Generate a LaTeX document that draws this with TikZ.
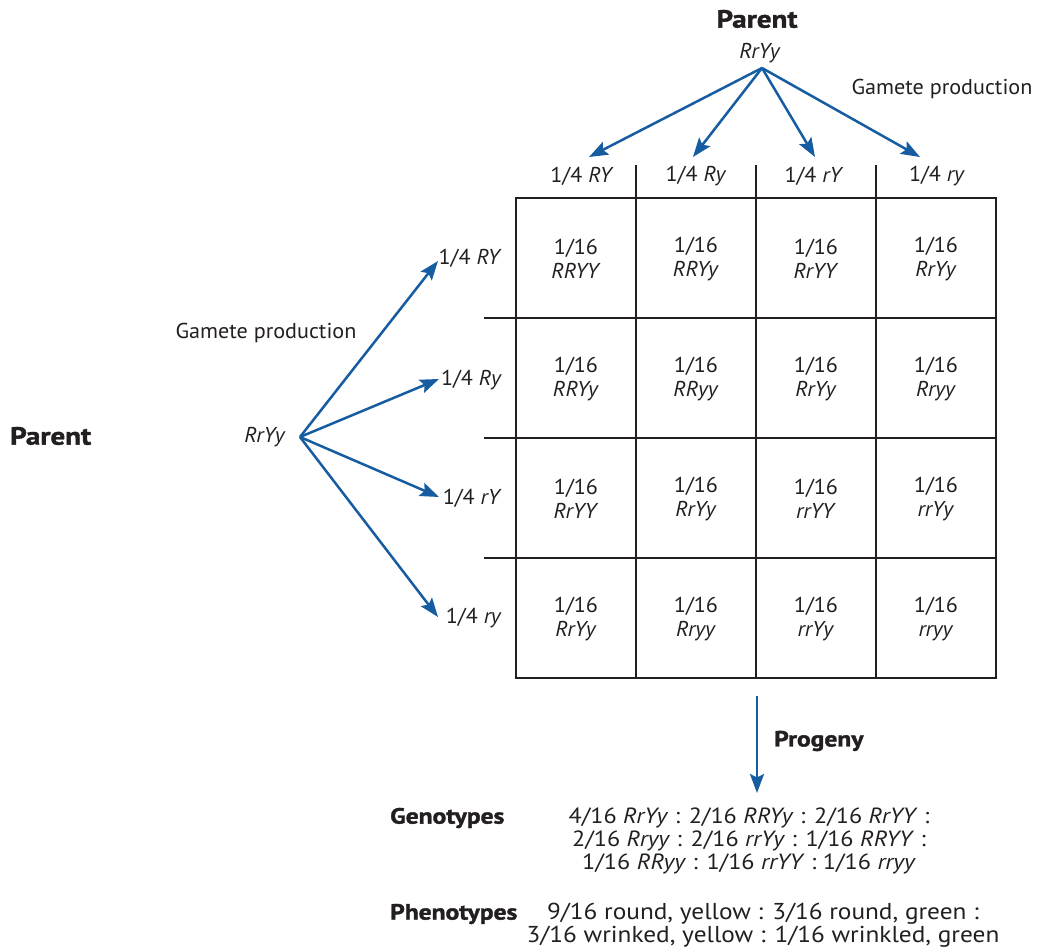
\documentclass[tikz,border=0pt]{standalone}
\usepackage{fontspec}
\setmainfont{PT Sans}[FakeStretch=1.03]
\newfontfamily\widefont{PT Sans}[FakeStretch=1.1]
\newfontfamily\heavyfont{PT Sans Bold}[FakeBold=1.6,FakeStretch=1.16]
\usetikzlibrary{arrows.meta}
\definecolor{arrowblue}{RGB}{22,92,160}
\definecolor{ink}{RGB}{35,31,32}
\newcommand{\g}[1]{\textit{#1}}
\begin{document}
\begin{tikzpicture}[x=1pt,y=-1pt,
  every node/.style={text=ink,inner sep=0pt,font=\fontsize{21.5}{23.5}\selectfont},
  head/.style={font=\fontsize{22}{24}\heavyfont},
  parenthead/.style={font=\fontsize{25}{26}\heavyfont},
  cell/.style={align=center},
  genotext/.style={align=center,font=\fontsize{22}{23}\widefont},
  phenotext/.style={align=center,font=\fontsize{23}{23}\widefont},
  gam/.style={draw=arrowblue,line width=2.5pt,-{Stealth[length=19pt,width=14pt,inset=3.5pt]}},
  outer/.style={draw=ink,line width=2.4pt},
  inner/.style={draw=ink,line width=1.3pt}]
\useasboundingbox (0,0) rectangle (1037,949);

% top parent and its gametes
\node[parenthead] (tparent) at (757,19) {Parent};
\node (tgeno) at (760,53) {\g{RrYy}};
\coordinate (tsrc) at (762,68);
\node (tgam) at (942,89) {Gamete production};
\coordinate (t1) at (589,157);
\coordinate (t2) at (693,157);
\coordinate (t3) at (815,157);
\coordinate (t4) at (920,157);
\foreach \i in {1,...,4} \draw[gam] (tsrc) -- (t\i);
\node (c1) at (582,176) {1/4 \g{RY}};
\node (c2) at (696,176) {1/4 \g{Ry}};
\node (c3) at (814,176) {1/4 \g{rY}};
\node (c4) at (937,176) {1/4 \g{ry}};

% left parent and its gametes
\node[parenthead,anchor=west] (lparent) at (10,436) {Parent};
\node (lgeno) at (265,437) {\g{RrYy}};
\coordinate (lsrc) at (300,437);
\node (lgam) at (266,333) {Gamete production};
\coordinate (l1) at (438,261);
\coordinate (l2) at (439,379);
\coordinate (l3) at (439,497);
\coordinate (l4) at (438,617);
\foreach \i in {1,...,4} \draw[gam] (lsrc) -- (l\i);
\node[anchor=east] (r1) at (502,258) {1/4 \g{RY}};
\node[anchor=east] (r2) at (502,380) {1/4 \g{Ry}};
\node[anchor=east] (r3) at (502,498) {1/4 \g{rY}};
\node[anchor=east] (r4) at (502,618) {1/4 \g{ry}};

% Punnett square
\foreach \x in {636,756,876} \draw[inner] (\x,165) -- (\x,678);
\foreach \y in {318,438,558} \draw[inner] (484,\y) -- (996,\y);
\draw[outer] (516,198) rectangle (996,678);

\node[cell] (s11) at (576,259) {1/16\\\g{RRYY}};
\node[cell] (s12) at (696,259) {1/16\\\g{RRYy}};
\node[cell] (s13) at (816,259) {1/16\\\g{RrYY}};
\node[cell] (s14) at (936,259) {1/16\\\g{RrYy}};
\node[cell] (s21) at (576,379) {1/16\\\g{RRYy}};
\node[cell] (s22) at (696,379) {1/16\\\g{RRyy}};
\node[cell] (s23) at (816,379) {1/16\\\g{RrYy}};
\node[cell] (s24) at (936,379) {1/16\\\g{Rryy}};
\node[cell] (s31) at (576,499) {1/16\\\g{RrYY}};
\node[cell] (s32) at (696,499) {1/16\\\g{RrYy}};
\node[cell] (s33) at (816,499) {1/16\\\g{rrYY}};
\node[cell] (s34) at (936,499) {1/16\\\g{rrYy}};
\node[cell] (s41) at (576,619) {1/16\\\g{RrYy}};
\node[cell] (s42) at (696,619) {1/16\\\g{Rryy}};
\node[cell] (s43) at (816,619) {1/16\\\g{rrYy}};
\node[cell] (s44) at (936,619) {1/16\\\g{rryy}};

% progeny
\coordinate (pstart) at (757,696);
\coordinate (pend) at (757,793);
\draw[gam] (pstart) -- (pend);
\node[head,anchor=west] (prog) at (774,741) {Progeny};

\node[head,anchor=west] (genolab) at (390,818) {Genotypes};
\node[genotext] (genos) at (749,841) {4/16 \g{RrYy} : 2/16 \g{RRYy} : 2/16 \g{RrYY} :\\
  2/16 \g{Rryy} : 2/16 \g{rrYy} : 1/16 \g{RRYY} :\\
  1/16 \g{RRyy} : 1/16 \g{rrYY} : 1/16 \g{rryy}};

\node[head,anchor=west] (phenolab) at (390,914) {Phenotypes};
\node[phenotext] (phenos) at (763,925) {9/16 round, yellow : 3/16 round, green :\\
  3/16 wrinked, yellow : 1/16 wrinkled, green};
\end{tikzpicture}
\end{document}
